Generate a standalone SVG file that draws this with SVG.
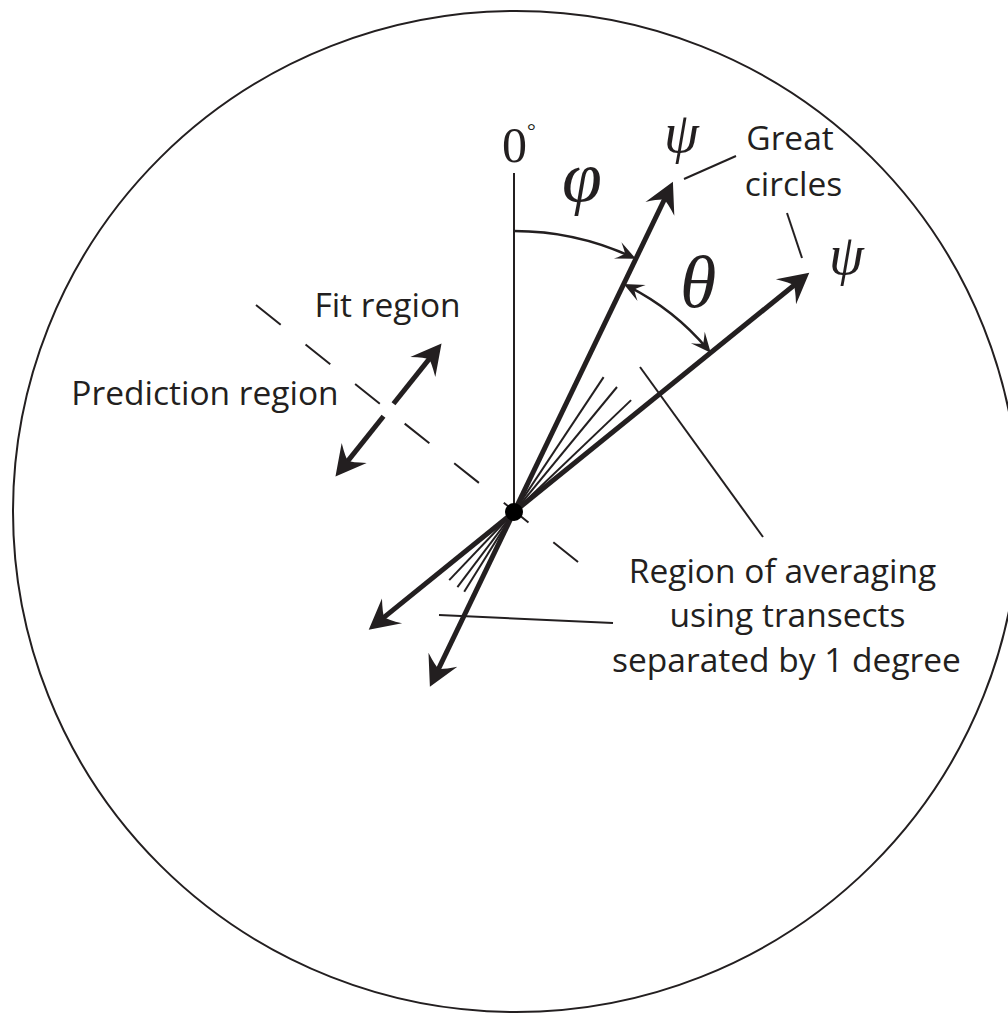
<svg xmlns="http://www.w3.org/2000/svg" width="1008" height="1013" viewBox="0 0 1008 1013">
<style>
.thick{stroke:#231f20;stroke-width:5;fill:none}
.thin{stroke:#231f20;stroke-width:2;fill:none}
.arc{stroke:#231f20;stroke-width:2.5;fill:none}
.lbl{font-family:"Open Sans","Liberation Sans",sans-serif;font-size:33.5px;fill:#231f20;text-anchor:middle}
.greek{font-family:"Liberation Serif","DejaVu Serif",serif;font-style:italic;fill:#231f20}
</style>
<defs>
<marker id="big" markerUnits="userSpaceOnUse" orient="auto" refX="0" refY="0" markerWidth="1" markerHeight="1" overflow="visible">
<path d="M18,0 L-12,-16 Q-3,-4 -2,0 Q-3,4 -12,16 Z" fill="#231f20"/>
</marker>
<marker id="sm" markerUnits="userSpaceOnUse" orient="auto-start-reverse" refX="0" refY="0" markerWidth="1" markerHeight="1" overflow="visible">
<path d="M5,0 L-15,-9 Q-8,-2 -7,0 Q-8,2 -15,9 Z" fill="#231f20"/>
</marker>
</defs>
<g id="boundary">
<ellipse cx="516" cy="511.5" rx="503" ry="500.5" fill="none" stroke="#231f20" stroke-width="2"/>
</g>
<g id="connectors">
<line class="thin" x1="514" y1="512" x2="514" y2="173" stroke-width="2.5"/>
<line class="thick" x1="514" y1="512" x2="665.1" y2="198" marker-end="url(#big)"/>
<line class="thick" x1="514" y1="512" x2="795.3" y2="284.2" marker-end="url(#big)"/>
<line class="thick" x1="514" y1="512" x2="437.7" y2="670.6" marker-end="url(#big)"/>
<line class="thick" x1="514" y1="512" x2="382.7" y2="618.4" marker-end="url(#big)"/>
<line class="thin" x1="514" y1="512" x2="603.6" y2="377.1"/>
<line class="thin" x1="514" y1="512" x2="617" y2="387"/>
<line class="thin" x1="514" y1="512" x2="631.1" y2="400.1"/>
<line class="thin" x1="514" y1="512" x2="464.2" y2="591.7"/>
<line class="thin" x1="514" y1="512" x2="457.4" y2="587.1"/>
<line class="thin" x1="514" y1="512" x2="449.2" y2="580.1"/>
<path class="arc" d="M514,231 A281,281 0 0 1 631.3,256.7" marker-end="url(#sm)"/>
<path class="arc" d="M628.2,286.3 A253,253 0 0 1 707.5,349" marker-start="url(#sm)" marker-end="url(#sm)"/>
<line class="thin" x1="256" y1="305" x2="578.2" y2="562.1" stroke-width="2.5" stroke-dasharray="31.6 31.8"/>
<line class="thick" x1="393.5" y1="403.7" x2="430.3" y2="357.6" marker-end="url(#big)"/>
<line class="thick" x1="383.5" y1="416.3" x2="346.7" y2="462.4" marker-end="url(#big)"/>
<line class="thin" x1="684" y1="179" x2="736" y2="156"/>
<line class="thin" x1="787" y1="213" x2="802" y2="258"/>
<line class="thin" x1="640" y1="367" x2="763" y2="537"/>
<line class="thin" x1="439" y1="615" x2="613" y2="623"/>
</g>
<g id="center">
<circle cx="514" cy="512" r="9" fill="#000"/>
</g>
<g id="zero-label">
<text x="502" y="162" font-family="Liberation Serif,serif" font-size="50" fill="#231f20">0<tspan font-size="22" dy="-24">°</tspan></text>
</g>
<g id="phi-label"><text class="greek" x="562" y="201" font-size="72">φ</text></g>
<g id="psi1-label"><text class="greek" x="664" y="152" font-size="56">ψ</text></g>
<g id="psi2-label"><text class="greek" x="829" y="274" font-size="56">ψ</text></g>
<g id="theta-label"><text class="greek" x="680" y="307" font-size="74">θ</text></g>
<g id="great-circles">
<text class="lbl" x="790" y="150">Great</text>
<text class="lbl" x="793.5" y="196">circles</text>
</g>
<g id="fit-region"><text class="lbl" x="387.5" y="317">Fit region</text></g>
<g id="prediction-region"><text class="lbl" x="205" y="405">Prediction region</text></g>
<g id="averaging">
<text class="lbl" x="782.5" y="583">Region of averaging</text>
<text class="lbl" x="787.5" y="627">using transects</text>
<text class="lbl" x="786.5" y="672">separated by 1 degree</text>
</g>
</svg>
